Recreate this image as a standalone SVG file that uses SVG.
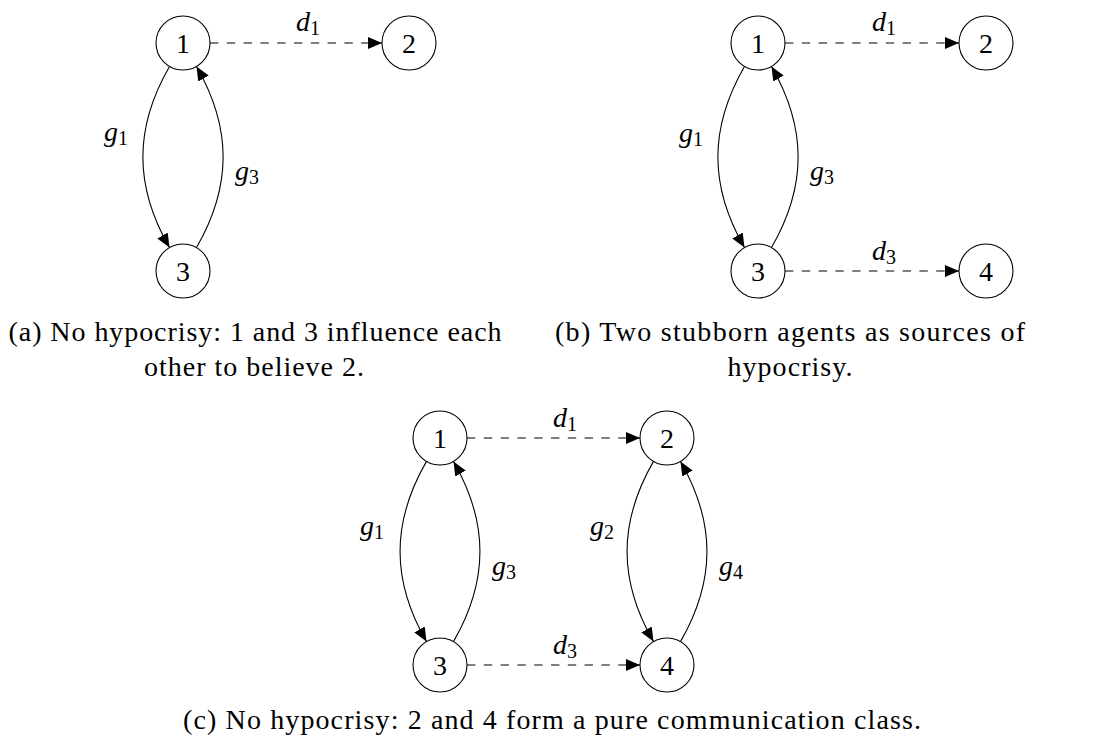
<svg xmlns="http://www.w3.org/2000/svg" width="1094" height="744" viewBox="0 0 1094 744">
<style>
.nd circle{fill:#fff;stroke:#000;stroke-width:1.1}
.nd text{font-family:"Liberation Serif",serif;font-size:28px;text-anchor:middle;fill:#000}
.e{fill:none;stroke:#000;stroke-width:1.1;marker-end:url(#arr)}
.dash{stroke-dasharray:8.4 8.4}
.m{font-family:"Liberation Serif",serif;font-style:italic;font-size:28px;fill:#000}
.s{font-style:normal;font-size:20px}
.cap{font-family:"Liberation Serif",serif;font-size:28px;text-anchor:middle;fill:#000}
</style>
<defs>
<marker id="arr" viewBox="0 0 14 12" refX="14" refY="6" markerWidth="14" markerHeight="12" markerUnits="userSpaceOnUse" orient="auto">
<path d="M0,0 L14,6 L0,12 Z" fill="#000"/>
</marker>
</defs>
<rect width="1094" height="744" fill="#fff"/>

<g id="connectors">
<!-- (a) -->
<path class="e dash" d="M210,43 H382"/>
<path class="e" d="M169.5,66.4 C134,127.9 134,186.1 169.5,247.6"/>
<path class="e" d="M196.5,247.6 C232,186.1 232,127.9 196.5,66.4"/>
<text class="m" x="296" y="31">d<tspan class="s" dy="4">1</tspan></text>
<text class="m" x="104" y="141">g<tspan class="s" dy="4">1</tspan></text>
<text class="m" x="235" y="180">g<tspan class="s" dy="4">3</tspan></text>
<!-- (b) -->
<path class="e dash" d="M785,43 H959"/>
<path class="e dash" d="M785,271 H959"/>
<path class="e" d="M744.5,66.4 C709,127.9 709,186.1 744.5,247.6"/>
<path class="e" d="M771.5,247.6 C807,186.1 807,127.9 771.5,66.4"/>
<text class="m" x="872" y="31">d<tspan class="s" dy="4">1</tspan></text>
<text class="m" x="872" y="260">d<tspan class="s" dy="4">3</tspan></text>
<text class="m" x="679" y="142">g<tspan class="s" dy="4">1</tspan></text>
<text class="m" x="810" y="180">g<tspan class="s" dy="4">3</tspan></text>
<!-- (c) -->
<path class="e dash" d="M467,438 H640"/>
<path class="e dash" d="M467,665 H640"/>
<path class="e" d="M426.5,461.4 C391.25,522.45 391.25,580.55 426.5,641.6"/>
<path class="e" d="M453.5,641.6 C488.75,580.55 488.75,522.45 453.5,461.4"/>
<path class="e" d="M653.5,461.4 C618.25,522.45 618.25,580.55 653.5,641.6"/>
<path class="e" d="M680.5,641.6 C715.75,580.55 715.75,522.45 680.5,461.4"/>
<text class="m" x="553" y="427">d<tspan class="s" dy="4">1</tspan></text>
<text class="m" x="553" y="654">d<tspan class="s" dy="4">3</tspan></text>
<text class="m" x="360" y="535">g<tspan class="s" dy="4">1</tspan></text>
<text class="m" x="492" y="575">g<tspan class="s" dy="4">3</tspan></text>
<text class="m" x="590" y="535">g<tspan class="s" dy="4">2</tspan></text>
<text class="m" x="719" y="575">g<tspan class="s" dy="4">4</tspan></text>
</g>

<g id="a-n1" class="nd"><circle cx="183" cy="43" r="27"/><text x="183" y="52.5">1</text></g>
<g id="a-n2" class="nd"><circle cx="409" cy="43" r="27"/><text x="409" y="52.5">2</text></g>
<g id="a-n3" class="nd"><circle cx="183" cy="271" r="27"/><text x="183" y="280.5">3</text></g>

<g id="b-n1" class="nd"><circle cx="758" cy="43" r="27"/><text x="758" y="52.5">1</text></g>
<g id="b-n2" class="nd"><circle cx="986" cy="43" r="27"/><text x="986" y="52.5">2</text></g>
<g id="b-n3" class="nd"><circle cx="758" cy="271" r="27"/><text x="758" y="280.5">3</text></g>
<g id="b-n4" class="nd"><circle cx="986" cy="271" r="27"/><text x="986" y="280.5">4</text></g>

<g id="c-n1" class="nd"><circle cx="440" cy="438" r="27"/><text x="440" y="447.5">1</text></g>
<g id="c-n2" class="nd"><circle cx="667" cy="438" r="27"/><text x="667" y="447.5">2</text></g>
<g id="c-n3" class="nd"><circle cx="440" cy="665" r="27"/><text x="440" y="674.5">3</text></g>
<g id="c-n4" class="nd"><circle cx="667" cy="665" r="27"/><text x="667" y="674.5">4</text></g>

<g id="captions">
<text class="cap" x="255" y="341" textLength="493" lengthAdjust="spacing">(a) No hypocrisy: 1 and 3 influence each</text>
<text class="cap" x="254" y="376" textLength="220" lengthAdjust="spacing">other to believe 2.</text>
<text class="cap" x="790" y="341" textLength="470" lengthAdjust="spacing">(b) Two stubborn agents as sources of</text>
<text class="cap" x="790" y="376" textLength="125" lengthAdjust="spacing">hypocrisy.</text>
<text class="cap" x="552" y="729" textLength="738" lengthAdjust="spacing">(c) No hypocrisy: 2 and 4 form a pure communication class.</text>
</g>
</svg>
